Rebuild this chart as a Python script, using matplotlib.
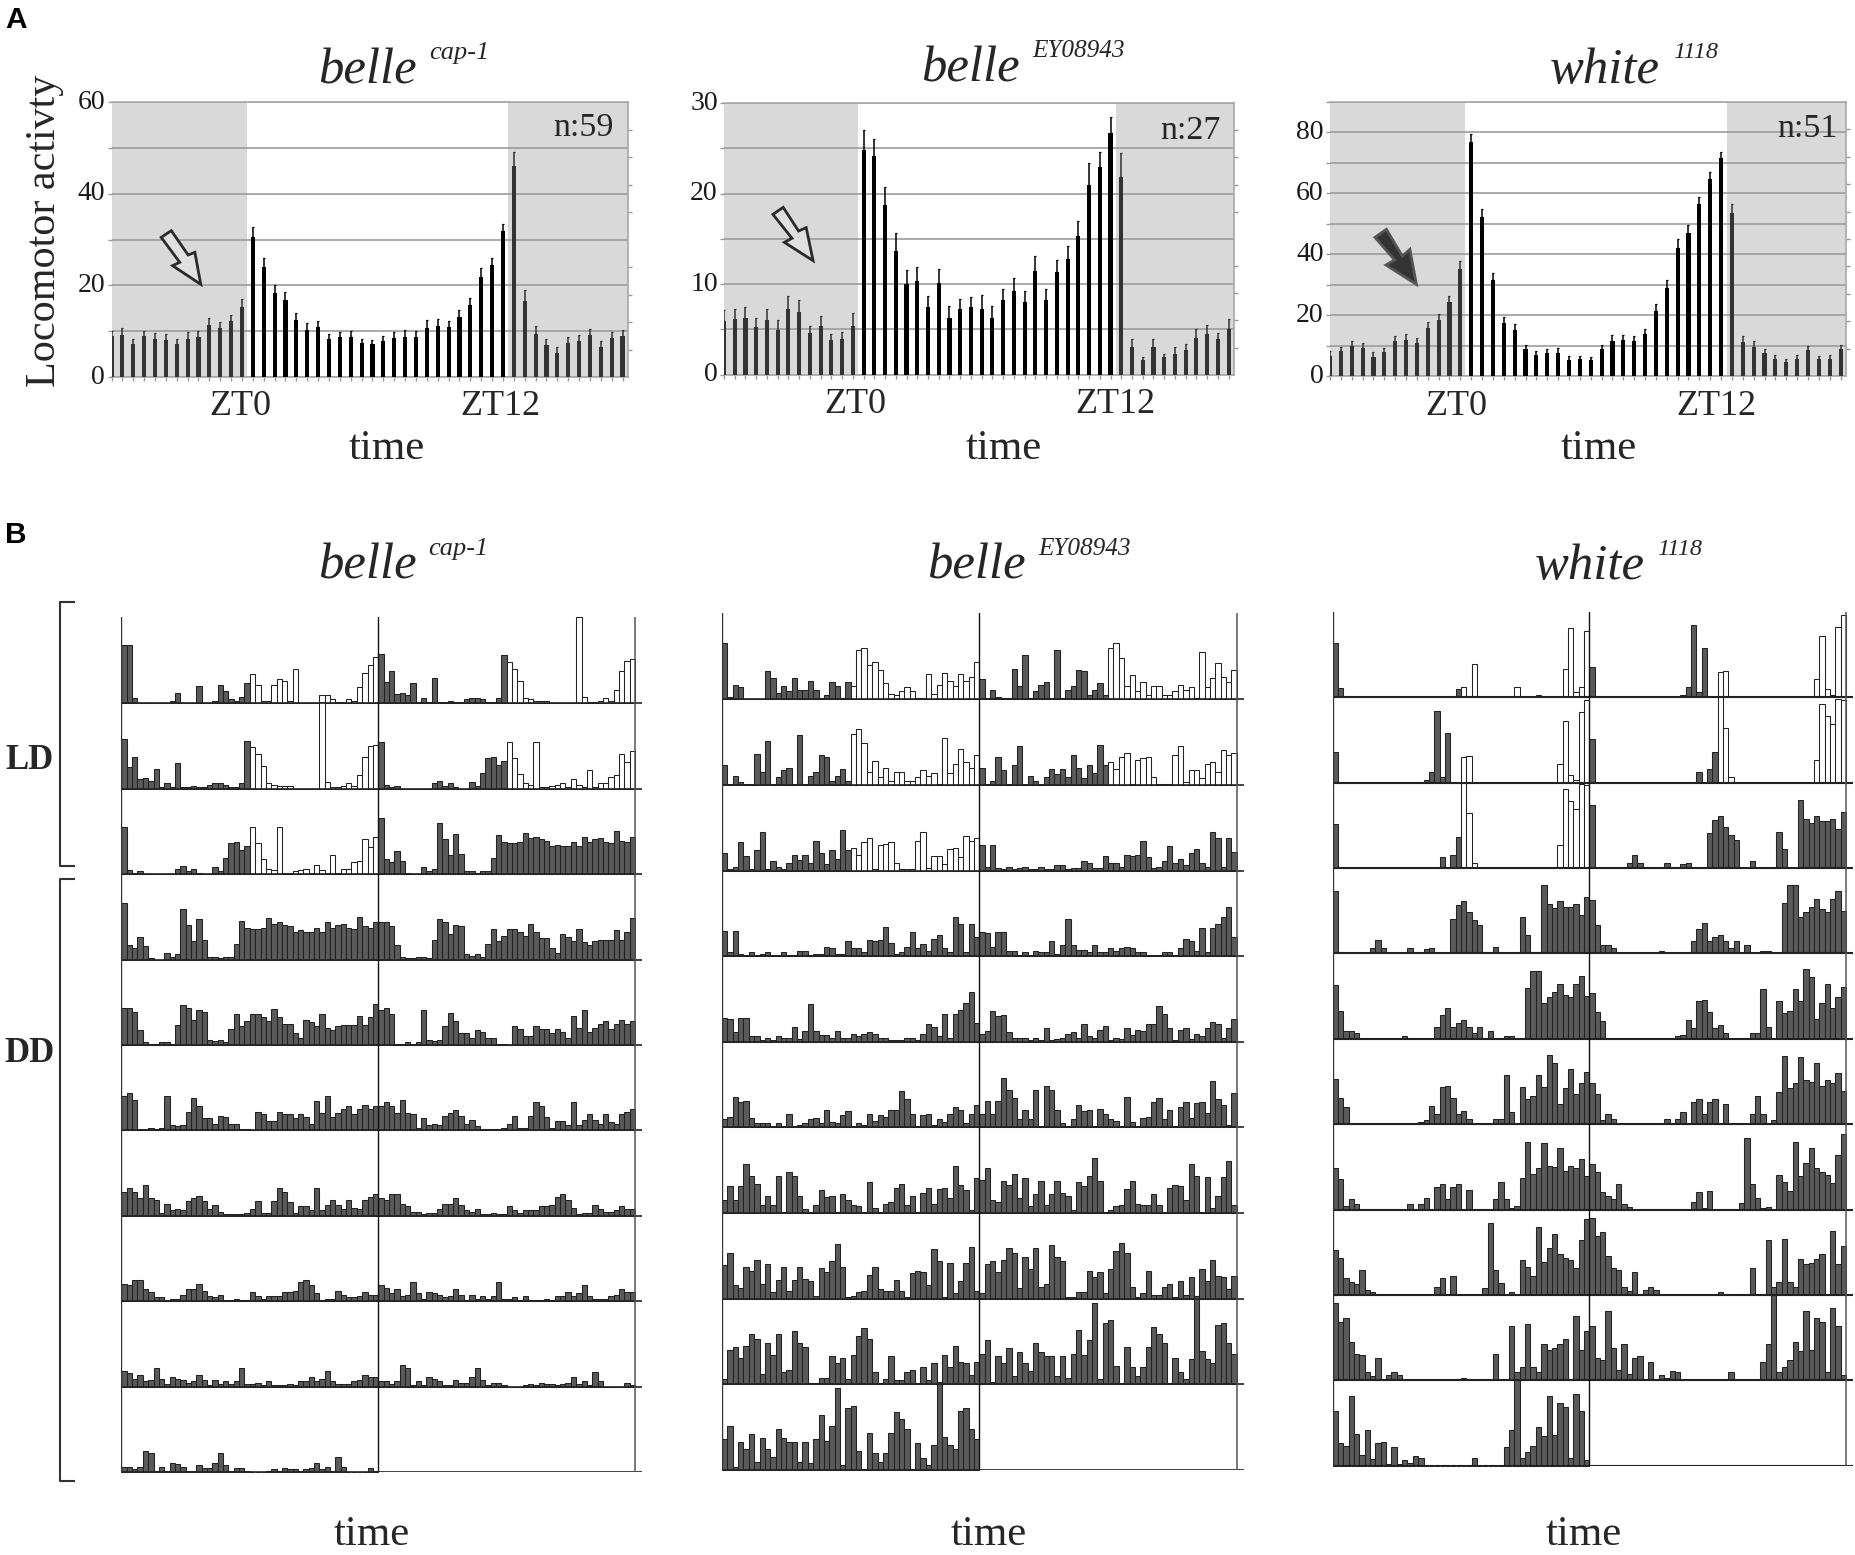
import matplotlib
matplotlib.use('Agg')
import matplotlib.pyplot as plt
from matplotlib.patches import Polygon
from matplotlib.transforms import ScaledTranslation
import numpy as np

W, H = 1855, 1555
SERIF = ['Liberation Serif', 'DejaVu Serif']
SANS = ['Liberation Sans', 'DejaVu Sans']

# panel A: mean activity and top of error bar, 48 half hour bins
cap1_mean = [8.9,9.1,7.2,8.9,8.4,8.1,7.1,8.4,8.8,11.4,10.7,12.2,15.3,30.5,24,18.4,16.9,12.5,10.3,10.9,8.3,8.7,8.7,7.4,
             7.1,7.9,8.6,8.8,8.8,10.7,11.1,10.9,13.1,15.7,21.8,24.5,31.8,46,16.6,9.5,7,5.3,7.5,7.9,9.1,6.6,8.5,9]
cap1_top = [10,10.6,8.4,10.1,9.7,9.3,8.2,9.8,10.1,12.9,12,13.6,17.1,32.8,25.9,20,18.6,13.9,11.7,12.3,9.4,9.9,10,8.4,
            8.1,8.9,9.8,10.2,10,12.4,12.7,12.3,14.6,17.3,23.8,26.1,33.4,49.1,18.9,11.1,8.4,6.5,8.8,9.2,10.4,7.8,9.9,10.3]
ey_mean = [5.9,6.1,6.3,5.3,6,4.9,7.3,6.9,4.6,5.4,3.8,3.9,5.4,24.8,24.1,18.7,13.7,10,10.3,7.5,10.1,6.3,7.2,7.5,
           7.2,6.3,8.2,9.2,8,11.4,8.2,11.3,12.8,15.3,21,22.9,26.7,21.8,3.1,1.6,3.1,1.9,2.3,2.7,4,4.5,3.9,5]
ey_top = [7.1,7.3,7.5,6.3,7.3,6,8.7,8.2,5.4,6.5,4.5,4.7,6.8,27,26,20.7,15.6,11.6,11.9,8.7,11.7,7.6,8.4,8.6,
          8.8,7.6,9.5,10.7,9.2,13.1,9.5,12.7,14.2,17,23.4,24.6,28.5,24.5,3.9,2,3.9,2.3,3.1,3.4,5,5.5,4.6,6.2]
w1118_mean = [6.7,8.4,9.9,9.2,6.4,7.9,11.7,11.9,10.9,15.8,18.6,24.3,35.1,76.7,52.3,31.6,17.4,15.2,9,7,7.8,7.5,5.4,5.6,
              5.4,8.9,11.6,11.8,11.6,13.8,21.3,29,42.2,46.9,56.4,64.6,71.6,53.7,11.4,9.6,7.5,5.7,4.8,5.7,8.7,5.8,5.8,8.9]
w1118_top = [8.4,9.7,11.5,10.9,7.9,9.2,13.3,13.9,12.5,17.8,20.5,26.4,37.7,79.6,55,34,19.5,17,10.3,8.2,9.1,9.2,6.6,6.8,
             6.4,10.4,13.6,13.6,13.3,15.6,23.7,31.5,45.1,49.5,58.9,67.1,73.7,56.6,13.3,11.5,9,6.9,5.8,6.9,10,6.8,6.9,10.4]

# panel B: one list per day, 48 bins, read as bar height (64 = one row)
cap1_days = [
    [44,44,4,0,0,0,0,0,0,2,8,0,0,0,13,0,0,2,14,9,3,2,5,15,22,14,2,2,14,18,17,2,26,0,0,0,0,6,6,3,1,1,3,2,12,23,29,35],
    [37,16,24,7,8,6,15,1,4,1,19,1,1,2,1,1,3,4,4,3,1,1,4,36,31,26,17,4,3,2,2,2,0,0,0,0,0,65,5,1,1,2,4,2,10,24,32,33],
    [35,3,1,2,0,0,0,0,0,0,4,6,2,4,1,0,0,5,2,12,23,24,18,21,35,23,11,4,3,35,1,1,2,3,4,1,7,3,1,14,1,4,4,9,10,26,20,28],
    [42,11,9,17,10,1,0,0,5,2,4,38,26,14,30,15,2,2,1,2,2,12,29,24,23,23,24,31,27,28,26,25,21,22,21,21,24,21,28,24,26,27,24,23,32,25,24,28],
    [28,28,25,11,2,1,1,2,2,1,15,30,28,19,26,25,4,3,4,2,12,23,14,18,23,23,21,18,27,21,16,16,9,5,19,17,14,23,13,11,14,15,15,15,22,15,21,31],
    [26,28,23,1,1,2,1,2,26,4,3,4,14,24,18,9,9,5,11,10,5,5,1,1,0,14,12,7,7,14,12,12,9,12,10,5,22,13,26,10,13,16,18,12,16,19,16,18],
    [18,21,18,13,23,13,12,2,9,4,5,4,11,13,15,11,5,8,3,1,1,1,1,2,5,11,2,2,11,21,18,10,2,7,7,4,21,4,8,12,8,5,12,6,5,12,14,16],
    [13,12,16,16,9,7,3,3,1,2,2,5,9,9,13,8,4,3,5,1,1,2,1,1,7,4,2,4,4,4,7,7,8,14,16,12,6,1,2,2,8,5,3,3,4,7,5,5],
    [12,10,6,9,4,5,14,6,2,7,6,5,3,4,9,5,1,5,2,4,2,4,14,2,2,3,1,4,1,1,1,2,1,4,4,7,4,6,12,4,2,2,2,4,5,9,7,7],
    [4,4,2,4,16,14,1,4,1,7,6,4,1,1,5,3,3,7,14,5,1,3,3,1,0,0,0,1,2,1,3,2,2,1,2,3,7,2,4,1,11,4,0,0,0,0,3,1],
]
ey_days = [
    [42,2,11,9,0,0,0,0,21,16,5,10,6,16,7,7,14,7,1,3,13,10,1,13,10,37,38,26,28,22,12,4,3,6,9,6,1,1,19,4,11,20,14,10,19,14,17,28],
    [15,1,7,2,1,1,23,10,33,1,6,11,13,1,37,1,7,10,22,21,3,7,12,3,38,42,31,10,18,6,13,3,10,10,3,3,6,11,7,9,1,35,9,16,27,17,13,22],
    [13,1,3,21,11,1,15,29,1,7,3,1,6,12,8,12,6,22,13,5,15,9,30,15,17,12,21,24,1,19,20,21,6,1,1,1,22,29,2,11,11,5,16,17,10,26,22,24],
    [19,3,19,2,1,3,1,2,3,1,1,3,1,1,4,4,1,2,2,7,6,2,2,11,6,6,3,12,11,12,22,10,2,3,7,18,6,9,4,13,16,6,3,29,24,3,24,14],
    [18,17,7,18,18,4,4,1,3,1,4,3,3,11,2,8,28,8,5,5,3,8,3,3,6,4,6,7,6,3,3,1,1,1,3,3,1,6,13,11,4,21,3,21,24,29,37,14],
    [6,8,23,19,20,7,3,3,3,1,3,1,10,1,2,3,6,7,3,13,4,3,9,12,1,3,2,10,5,9,8,13,13,27,21,10,1,9,10,2,6,4,10,15,13,3,10,17],
    [10,20,10,20,37,28,22,6,13,6,28,1,31,28,13,3,1,6,17,12,13,1,14,10,6,5,1,23,4,1,7,8,19,22,6,13,1,15,19,7,18,19,11,35,21,17,2,26],
    [25,34,10,8,24,21,29,11,26,5,14,24,6,14,24,15,13,2,23,20,28,41,24,1,2,5,6,18,24,7,6,6,14,6,1,19,21,20,10,37,28,1,27,4,13,27,39,6],
    [4,26,28,20,29,38,34,8,31,22,38,9,11,40,31,28,1,1,5,5,21,16,20,4,22,36,42,34,9,1,4,21,3,3,9,11,1,13,3,16,2,22,13,29,17,16,7,17],
    [23,33,2,21,16,27,6,24,16,10,31,24,21,21,6,21,5,23,41,22,33,61,4,46,48,14,1,28,13,6,13,28,43,38,31,1,20,9,4,19,66,25,19,16,44,46,31,23],
]
w1118_days = [
    [41,7,0,0,0,0,0,0,0,0,0,0,0,0,0,0,0,0,0,0,0,0,0,6,8,1,25,0,0,0,0,0,0,0,8,0,0,0,2,0,0,0,0,21,52,4,8,50],
    [23,0,0,0,0,0,0,0,0,0,0,0,0,0,0,0,0,2,8,54,4,37,0,0,19,20,0,0,0,0,0,0,0,0,0,0,0,0,0,0,0,0,14,46,6,2,53,62],
    [33,0,0,0,0,0,0,0,0,0,0,0,0,0,0,0,0,0,0,0,8,0,10,23,64,41,4,0,0,0,0,0,0,0,0,0,0,0,0,0,0,0,17,59,50,44,63,62],
    [47,0,0,0,0,0,0,4,10,4,0,0,0,0,4,0,0,3,4,0,0,0,26,36,39,31,25,21,0,0,5,0,0,0,0,27,14,0,0,51,37,34,39,35,35,37,29,42],
    [40,21,6,6,4,0,0,0,0,0,0,0,0,2,0,0,0,0,0,9,18,23,9,12,14,9,4,9,0,6,0,0,2,2,0,0,38,51,51,27,31,35,41,33,31,41,47,32],
    [34,20,13,0,0,0,0,0,0,0,0,0,0,0,0,0,2,3,14,8,28,29,20,8,10,4,0,0,0,0,4,4,37,9,0,28,19,21,37,28,52,46,15,27,41,23,31,39],
    [31,23,3,8,4,0,0,0,0,0,0,0,0,0,4,0,4,9,0,17,19,8,17,19,0,15,0,0,0,0,8,21,8,1,3,24,51,27,31,50,33,32,46,29,33,31,38,25],
    [34,28,13,10,8,19,4,2,0,0,0,0,0,0,0,0,0,0,0,6,13,1,14,0,0,0,0,0,5,54,19,9,1,2,0,26,21,14,51,25,35,46,31,28,26,20,41,57],
    [58,44,47,29,20,19,6,3,17,1,4,6,4,0,0,0,0,0,0,0,0,0,0,1,2,0,0,0,1,0,20,0,0,41,6,10,42,10,6,27,23,24,27,31,0,48,23,37],
    [41,17,15,52,24,8,27,5,17,18,1,14,1,4,2,7,6,0,0,0,0,0,0,0,0,0,6,0,0,0,0,0,14,27,64,6,10,15,29,22,52,23,47,44,6,54,41,4],
]


def ax_px(fig, left, top, right, bottom):
    return fig.add_axes([left / W, 1 - bottom / H, (right - left) / W, (bottom - top) / H])


def activity_panel(fig, box, mean, top, ymax, grid_step, label_step):
    ax = ax_px(fig, *box)
    x = np.arange(len(mean))
    ax.axvspan(0, 12.45, color='#d9d9d9', lw=0, zorder=1)
    ax.axvspan(36.5, 47.5, color='#d9d9d9', lw=0, zorder=1)
    colors = ['#000000' if 13 <= i <= 36 else '#333333' for i in x]
    ax.bar(x, mean, width=0.38, color=colors, zorder=3)
    up = np.array(top) - np.array(mean)
    for i in x:
        ax.errorbar(i, mean[i], yerr=[[0], [up[i]]], fmt='none', ecolor=colors[i],
                    elinewidth=1.1, capsize=1.0, capthick=0.9, zorder=3)
    ax.set_xlim(0, 47.5)
    ax.set_ylim(0, ymax)
    ticks = np.arange(0, ymax + 1, grid_step)
    ax.set_yticks(ticks)
    ax.set_yticklabels([str(t) if t % label_step == 0 else '' for t in ticks],
                       family=SERIF, fontsize=20, color='#1a1a1a')
    ax.set_yticks(np.linspace(0, ymax, 11), minor=True)
    ax.set_xticks([])
    ax.set_xticks(x, minor=True)
    ax.tick_params(axis='y', which='major', length=3, width=1, color='#999999', pad=1.5)
    ax.tick_params(axis='y', which='minor', left=False, right=True, length=3, width=1, color='#999999')
    ax.tick_params(axis='x', which='minor', length=3, width=1, color='#999999')
    # the numbers sit a little above their grid lines (after tick_params, which resets it)
    shift = ScaledTranslation(0, 3 / 100, fig.dpi_scale_trans)
    for lab in ax.get_yticklabels():
        lab.set_transform(lab.get_transform() + shift)
    ax.set_axisbelow('line')
    ax.grid(axis='y', which='major', color='#9c9c9c', lw=1.2)
    for side in ax.spines:
        ax.spines[side].set_color('#a8a8a8')
        ax.spines[side].set_linewidth(1.2)
    ax.spines['left'].set_visible(False)
    return ax


def actogram_panel(fig, left, mid_top, right, first_base, last_base, days, base_lw):
    pitch = (last_base - first_base) / 9
    unit = pitch / 64
    ax = ax_px(fig, left, mid_top, right + 7, last_base)
    ax.set_xlim(0, 96 * (right + 7 - left) / (right - left))
    ax.set_ylim(0, (last_base - mid_top) / unit)
    ax.axis('off')
    for row in range(10):
        base = (9 - row) * 64
        shown = [(row, 0)] if row == 9 else [(row, 0), (row + 1, 48)]
        for day, offset in shown:
            values = days[day]
            x = np.arange(48) + offset + 0.5
            fill = ['#ffffff' if day <= 2 and i >= 24 else '#5a5a5a' for i in range(48)]
            ax.bar(x, values, width=1, bottom=base, color=fill, edgecolor='#222222',
                   linewidth=0.75, zorder=2 + row * 0.1, clip_on=False)
        ax.plot([0, ax.get_xlim()[1]], [base, base], color='#222222', lw=base_lw, zorder=4)
    ax.plot([0, 0], [0, ax.get_ylim()[1]], color='#333333', lw=1.0, zorder=5)
    ax.plot([48, 48], [0, ax.get_ylim()[1]], color='#111111', lw=1.0, zorder=5)
    ax.plot([96, 96], [0, ax.get_ylim()[1]], color='#555555', lw=1.1, zorder=5)
    return ax


fig = plt.figure(figsize=(W / 100, H / 100), dpi=100, facecolor='white')

activity_panel(fig, (111.5, 102.3, 628, 377), cap1_mean, cap1_top, 60, 10, 20)
activity_panel(fig, (724, 103, 1234, 374.7), ey_mean, ey_top, 30, 5, 10)
activity_panel(fig, (1330, 101.8, 1846, 376.3), w1118_mean, w1118_top, 90, 10, 20)

actogram_panel(fig, 121.4, 617, 635, 703.3, 1472, cap1_days, 1.2)
actogram_panel(fig, 722, 613, 1236.8, 699.3, 1470, ey_days, 1.2)
actogram_panel(fig, 1332.6, 611.7, 1846, 697.3, 1465.7, w1118_days, 1.5)

# everything that is not data goes on a pixel overlay
over = fig.add_axes([0, 0, 1, 1], zorder=20)
over.set_xlim(0, W)
over.set_ylim(H, 0)
over.axis('off')
over.patch.set_alpha(0)


def txt(x, y, s, size, family=SERIF, **kw):
    kw.setdefault('color', '#262626')
    over.text(x, y, s, fontsize=size, family=family, ha=kw.pop('ha', 'left'), va='baseline', **kw)


for x, y, sx, sy, name, sup, ss in [
    (318, 83.5, 429.3, 59, 'belle', 'cap-1', 19),
    (921, 81.5, 1032, 56.7, 'belle', 'EY08943', 18.2),
    (1550, 83, 1673, 58.3, 'white', '1118', 17.5),
    (318, 578.5, 428, 555, 'belle', 'cap-1', 19),
    (927, 578.5, 1038.7, 555, 'belle', 'EY08943', 18.2),
    (1535, 578.5, 1657.4, 555, 'white', '1118', 17.5),
]:
    txt(x, y, name, 36.5, style='italic')
    txt(sx, sy, sup, ss, style='italic')

for x, y, s in [(553, 136, 'n:59'), (1160, 139, 'n:27'), (1777, 137, 'n:51')]:
    txt(x, y, s, 24.5)

for x, y, s in [(240, 415, 'ZT0'), (500.8, 415, 'ZT12'), (855, 413, 'ZT0'), (1115, 413, 'ZT12'),
                (1456.6, 415, 'ZT0'), (1716.5, 415, 'ZT12')]:
    txt(x, y, s, 26, ha='center')

for x, y in [(349, 459), (966, 459), (1561, 459), (334, 1545), (951, 1545), (1546, 1545)]:
    txt(x, y, 'time', 31)

over.text(54.7, 387, 'Locomotor activty', fontsize=30.3, family=SERIF, color='#262626', rotation=90,
          rotation_mode='anchor', ha='left', va='baseline')

txt(5, 28, 'A', 21.5, family=SANS, weight='bold', color='black')
txt(5, 543, 'B', 21.5, family=SANS, weight='bold', color='black')
txt(5, 769, 'LD', 25, weight='bold')
txt(4, 1062, 'DD', 25, weight='bold')

over.plot([74.4, 59.8, 59.8, 74.4], [601.7, 601.7, 865.7, 865.7], color='#333333', lw=1.5)
over.plot([74.4, 59.5, 59.5, 74.4], [879, 879, 1481, 1481], color='#333333', lw=1.5)


# arrows
def arrow(points, zx, x0, face, edge):
    pts = [(x0 + px / zx, py / 3) for px, py in points]
    over.add_patch(Polygon(pts, closed=True, facecolor=face, edgecolor=edge, lw=2.0, joinstyle='miter'))


arrow([(383, 712), (407, 692), (447, 765), (463, 757), (477, 853), (410, 797), (427, 787)], 2.376, 0, '#e0e0e0', '#2a2a2a')
arrow([(295, 643), (322, 622), (362, 693), (382, 683), (400, 782), (325, 727), (345, 715)], 2.613, 660, '#e0e0e0', '#2a2a2a')
arrow([(303, 712), (333, 688), (375, 768), (395, 748), (412, 853), (332, 795), (355, 780)], 2.635, 1260, '#333333', '#555555')

fig.savefig('out.png', dpi=100)
